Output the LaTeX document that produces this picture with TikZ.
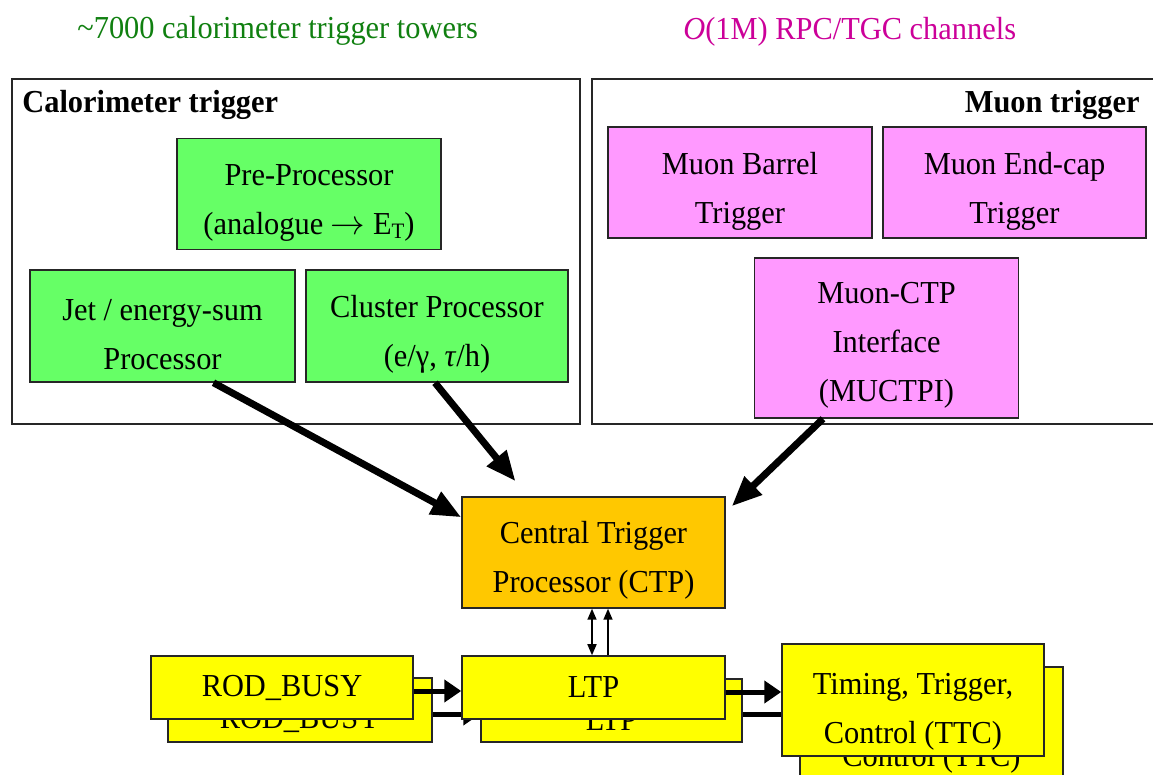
\documentclass[tikz,border=0pt]{standalone}
\usepackage{fontspec}
\setmainfont{Liberation Serif}[FakeStretch=0.95]
\usetikzlibrary{arrows.meta}
\definecolor{boxgreen}{HTML}{66FF66}
\definecolor{boxpink}{HTML}{FF99FF}
\definecolor{boxorange}{HTML}{FFC800}
\definecolor{boxyellow}{HTML}{FFFF00}
\definecolor{titlegreen}{HTML}{108010}
\definecolor{titlemag}{HTML}{CC0099}
\newcommand{\dn}[1]{\rule{0pt}{#1}}
\begin{document}
\begin{tikzpicture}[x=0.5pt,y=-0.5pt,
  every node/.style={font=\fontsize{16}{24.5}\selectfont},
  sz/.style 2 args={minimum width={(#1)*0.5pt}, minimum height={(#2)*0.5pt}},
  box/.style={draw=black!85, line width=0.75pt, inner sep=0pt, align=center},
  frame/.style={draw=black!85, line width=1pt, inner sep=0pt},
  bigarrow/.style={line width=3.5pt, -{Triangle[length=15pt,width=12pt]}},
  busarrow/.style={line width=2.5pt, -{Triangle[length=8.5pt,width=11pt]}},
  thinarrow/.style={line width=0.8pt, -{Triangle[length=5.5pt,width=4.5pt]}},
  thindouble/.style={line width=0.8pt, {Triangle[length=5.5pt,width=4.5pt]}-{Triangle[length=5.5pt,width=4.5pt]}},
]
\useasboundingbox (0,0) rectangle (1153,775);
\clip (0,0) rectangle (1153,775);
\fill[white] (0,0) rectangle (1153,775);

% titles
\node[anchor=base west, text=titlegreen, inner sep=0pt] (ttl1) at (77,39) {\textasciitilde7000 calorimeter trigger towers};
\node[anchor=base west, text=titlemag, inner sep=0pt] (ttl2) at (683,40) {\textit{O}(1M) RPC/TGC channels};

% frames
\node[frame, sz={568}{345}] (calframe) at (296,251.5) {};
\node[frame, sz={580}{345}] (muframe) at (882,251.5) {};
\node[anchor=base west, inner sep=0pt, font=\fontsize{16}{24.5}\selectfont\bfseries] (calt) at (22,113) {Calorimeter trigger};
\node[anchor=base east, inner sep=0pt, font=\fontsize{16}{24.5}\selectfont\bfseries] (mut) at (1140,113) {Muon trigger};

% calorimeter boxes
\node[box, fill=boxgreen, sz={264}{111}] (pre) at (309,194) {\dn{19pt}Pre-Processor\\(analogue $\rightarrow$ E\raisebox{-0.3ex}{\fontsize{11}{11}\selectfont T})};
\node[box, fill=boxgreen, sz={265}{112}] (jet) at (162.5,326) {\dn{19pt}Jet / energy-sum\\Processor};
\node[box, fill=boxgreen, sz={262}{112}] (clu) at (437,326) {\dn{19pt}Cluster Processor\\(e/γ, \textit{τ}/h)};

% muon boxes
\node[box, fill=boxpink, sz={264}{111}] (mbar) at (740,182.5) {\dn{20pt}Muon Barrel\\Trigger};
\node[box, fill=boxpink, sz={263}{111}] (mend) at (1014.5,182.5) {\dn{20pt}Muon End-cap\\Trigger};
\node[box, fill=boxpink, sz={264}{160}] (muctpi) at (886.5,338) {\dn{18pt}Muon-CTP\\Interface\\(MUCTPI)};

% CTP
\node[box, fill=boxorange, sz={263}{111}] (ctp) at (593.5,552.5) {\dn{19pt}Central Trigger\\Processor (CTP)};

% big arrows
\draw[bigarrow] ([xshift=25.5pt]jet.south) -- ([yshift=-10.5pt]ctp.north west);
\draw[bigarrow] ([xshift=-1pt]clu.south) -- ([shift={(-39pt,7.5pt)}]ctp.north);
\draw[bigarrow] ([xshift=-31.75pt]muctpi.south) -- ([shift={(3pt,-5pt)}]ctp.north east);

% back (shadow) boxes
\node[box, fill=boxyellow, sz={264}{64}] (rodB) at (300,710) {\raisebox{-4.75pt}[\height][\depth]{ROD\_BUSY}};
\node[box, fill=boxyellow, sz={261}{63}] (ltpB) at (611.5,710.5) {\raisebox{-4.75pt}[\height][\depth]{LTP}};
\node[box, fill=boxyellow, sz={263}{112}] (ttcB) at (931.5,723) {\dn{22pt}Timing, Trigger,\\Control (TTC)};
\draw[busarrow] ([yshift=-2pt]rodB.east) -- ([yshift=-2pt]rodB.east -| ltpB.west);
\draw[busarrow] ([yshift=-2pt]ltpB.east) -- ([yshift=-2pt]ltpB.east -| ttcB.west);

% front boxes
\node[box, fill=boxyellow, sz={262}{63}] (rod) at (282,687.5) {ROD\_BUSY};
\node[box, fill=boxyellow, sz={263}{63}] (ltp) at (593.5,687.5) {LTP};
\node[box, fill=boxyellow, sz={262}{112}] (ttc) at (913,700) {\dn{22pt}Timing, Trigger,\\Control (TTC)};
\draw[busarrow] ([yshift=-1.75pt]rod.east) -- ([yshift=-1.75pt]rod.east -| ltp.west);
\draw[busarrow] ([yshift=-2.25pt]ltp.east) -- ([yshift=-2.25pt]ltp.east -| ttc.west);

% CTP <-> LTP
\draw[thindouble] ([xshift=-0.75pt]ctp.south) -- ([xshift=-0.75pt]ltp.north);
\draw[thinarrow] ([xshift=7.25pt]ltp.north) -- ([xshift=7.25pt]ctp.south);
\end{tikzpicture}
\end{document}
